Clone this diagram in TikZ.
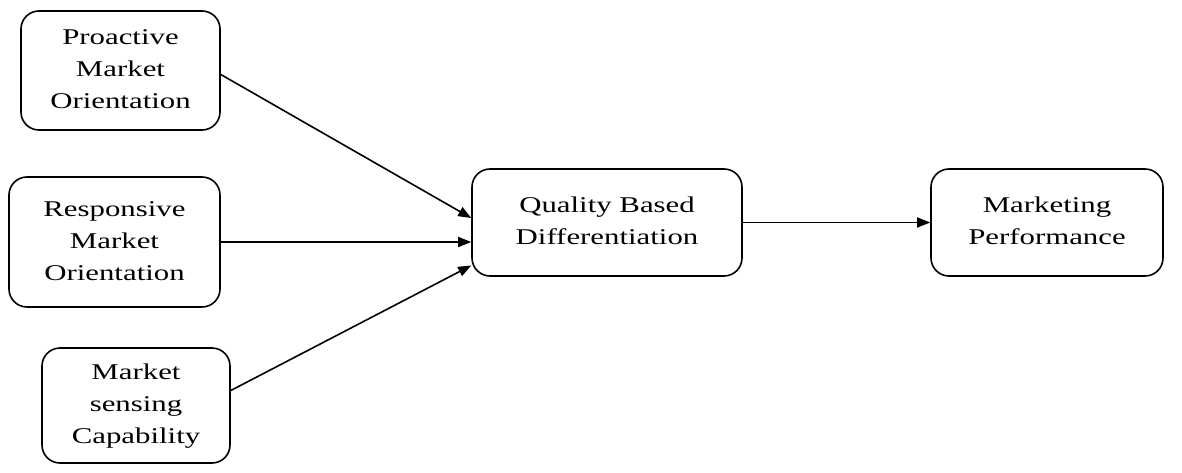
\documentclass[tikz,border=0pt]{standalone}
\usepackage{fontspec}
\setmainfont{Liberation Serif}
\usepackage{graphicx}
\usetikzlibrary{arrows.meta,calc}
\newcommand\widetext[1]{\scalebox{1.37}[1]{\begin{tabular}{@{}c@{}}#1\end{tabular}}}
\begin{document}
\begin{tikzpicture}[x=1pt,y=-1pt,
  box/.style={draw, line width=1.6pt, rounded corners=18pt, align=center,
    font=\fontsize{22.5}{32}\selectfont, inner sep=0pt},
  conn/.style={line width=1.6pt, -{Triangle[length=13pt,width=10pt]}}]
\useasboundingbox (0,0) rectangle (1182,473);
\node[box, minimum width=199pt, minimum height=119pt] (b1) at (120.5,70.5) {\widetext{Proactive\\Market\\Orientation}};
\node[box, minimum width=211pt, minimum height=130pt] (b2) at (114.5,242) {\widetext{Responsive\\Market\\Orientation}};
\node[box, minimum width=188pt, minimum height=115pt] (b3) at (136,405.5) {\widetext{Market\\sensing\\Capability}};
\node[box, minimum width=270pt, minimum height=107pt] (b4) at (607,222.5) {\raisebox{5pt}{\widetext{Quality Based\\Differentiation}}};
\node[box, minimum width=232pt, minimum height=107pt] (b5) at (1047,222.5) {\raisebox{5pt}{\widetext{Marketing\\Performance}}};
\draw[conn] ($(b1.east)+(0,4)$) -- ($(b4.west)+(0,-4.5)$);
\draw[conn] (b2.east) -- (b2.east -| b4.west);
\draw[conn] ($(b3.east)+(0,-15)$) -- ($(b4.west)+(0,43)$);
\draw[conn] (b4.east) -- (b5.west);
\end{tikzpicture}
\end{document}
